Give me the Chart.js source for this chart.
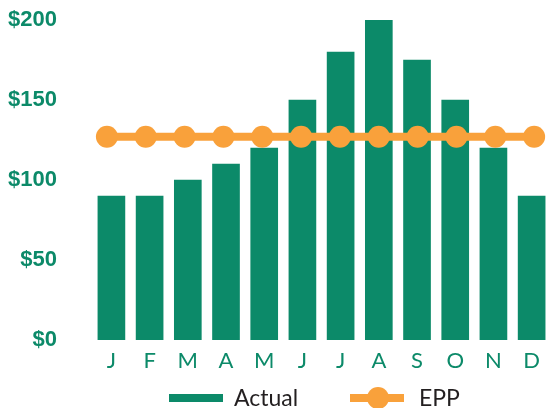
<!DOCTYPE html>
<html>
<head>
<meta charset="utf-8">
<script src="https://cdn.jsdelivr.net/npm/chart.js@4"></script>
<style>
  html, body { margin: 0; padding: 0; background: #fff; }
  #wrap { width: 548px; height: 408px; }
</style>
</head>
<body>
<div id="wrap"><canvas id="chart"></canvas></div>
<script>
"use strict";

// chart data
const months = ["J", "F", "M", "A", "M", "J", "J", "A", "S", "O", "N", "D"];
const actual = [90, 90, 100, 110, 120, 150, 180, 200, 175, 150, 120, 90];
const epp = [127, 127, 127, 127, 127, 127, 127, 127, 127, 127, 127, 127];
const yTicks = [0, 50, 100, 150, 200];
const seriesNames = ["Actual", "EPP"];

const green = "#0c8a69";
const orange = "#f9a13b";

// legend under the month labels: line swatch, with a dot for EPP
const bottomLegend = {
    id: "bottomLegend",
    afterDraw: function(chart) {
        const c = chart.ctx;
        const y = 398;
        c.save();
        c.fillStyle = green;
        c.fillRect(169, y - 4, 54, 8);
        c.fillStyle = orange;
        c.fillRect(350, y - 4, 54, 8);
        c.beginPath();
        c.arc(378, y, 11, 0, Math.PI * 2);
        c.fill();
        c.font = "23px Lato";
        c.textBaseline = "alphabetic";
        c.fillStyle = "#231f20";
        c.fillText(seriesNames[0], 234, 406);
        c.fillText(seriesNames[1], 419, 406);
        c.restore();
    }
};

const ctx = document.getElementById("chart").getContext("2d");
new Chart(ctx, {
    data: {
        datasets: [
            {
                type: "bar",
                label: seriesNames[0],
                data: actual.map((v, i) => ({ x: i, y: v })),
                backgroundColor: green,
                borderWidth: 0,
                barThickness: 27,
                grouped: false,
                xAxisID: "x",
                order: 2
            },
            {
                type: "line",
                label: seriesNames[1],
                data: epp.map((v, i) => ({ x: i, y: v })),
                borderColor: orange,
                backgroundColor: orange,
                borderWidth: 8,
                pointRadius: 11,
                pointBorderWidth: 0,
                pointBackgroundColor: orange,
                xAxisID: "x2",
                order: 1
            }
        ]
    },
    options: {
        responsive: true,
        maintainAspectRatio: false,
        animation: false,
        layout: { autoPadding: false, padding: { top: 20, left: 0, right: 0, bottom: 32 } },
        plugins: {
            tooltip: { enabled: false },
            legend: { display: false }
        },
        scales: {
            // bars and the EPP line sit on slightly different month grids
            x: {
                type: "linear",
                position: "bottom",
                offset: false,
                bounds: "data",
                min: -1.3456,
                max: 11.405,
                afterBuildTicks: function(scale) {
                    scale.ticks = months.map((m, i) => ({ value: i }));
                },
                afterFit: function(scale) {
                    scale.height = 36;
                },
                grid: { display: false, drawTicks: false, offset: false },
                border: { display: false },
                ticks: {
                    autoSkip: false,
                    maxRotation: 0,
                    padding: 8,
                    color: green,
                    font: { family: "Lato", size: 22 },
                    callback: function(value, index) {
                        return months[index];
                    }
                }
            },
            x2: {
                type: "linear",
                display: false,
                offset: false,
                bounds: "data",
                min: -1.2079,
                max: 11.3341
            },
            y: {
                min: 0,
                max: 200,
                afterBuildTicks: function(scale) {
                    scale.ticks = yTicks.map(v => ({ value: v }));
                },
                afterFit: function(scale) {
                    scale.width = 60;
                },
                grid: { display: false, drawTicks: false },
                border: { display: false },
                ticks: {
                    padding: 3,
                    color: green,
                    font: { family: "Liberation Sans", size: 22, weight: "bold" },
                    callback: function(value) {
                        return "$" + value;
                    }
                }
            }
        }
    },
    plugins: [bottomLegend]
});
</script>
</body>
</html>
